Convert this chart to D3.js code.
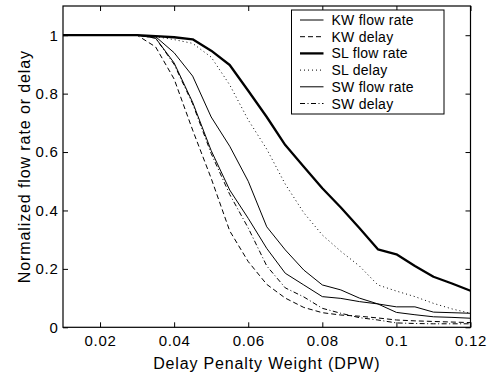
<!DOCTYPE html>
<html>
<head>
<meta charset="utf-8">
<script src="https://cdn.jsdelivr.net/npm/d3@7"></script>
<style>
  body { margin: 0; background: #fff; }
  text { font-family: "Liberation Sans", Arial, Helvetica, sans-serif; fill: #000; }
</style>
</head>
<body>
<div id="chart"></div>
<script>
// Delay penalty weight (x values)
var dpw = [0.01, 0.015, 0.02, 0.025, 0.03, 0.035, 0.04, 0.045, 0.05, 0.055, 0.06, 0.065,
  0.07, 0.075, 0.08, 0.085, 0.09, 0.095, 0.1, 0.105, 0.11, 0.115, 0.12];

var kwFlow = [1, 1, 1, 1, 1, 0.995, 0.94, 0.86, 0.72, 0.62, 0.50, 0.344,
  0.265, 0.196, 0.145, 0.128, 0.10, 0.08, 0.07, 0.07, 0.052, 0.05, 0.048];
var kwDelay = [1, 1, 1, 1, 1, 0.96, 0.85, 0.675, 0.51, 0.33, 0.225, 0.147,
  0.10, 0.068, 0.05, 0.042, 0.038, 0.032, 0.025, 0.022, 0.02, 0.018, 0.016];
var slFlow = [1, 1, 1, 1, 1, 0.997, 0.993, 0.986, 0.947, 0.898, 0.81, 0.72,
  0.624, 0.55, 0.476, 0.41, 0.34, 0.267, 0.25, 0.21, 0.173, 0.15, 0.125];
var slDelay = [1, 1, 1, 1, 1, 0.995, 0.985, 0.972, 0.925, 0.83, 0.71, 0.61,
  0.49, 0.392, 0.316, 0.26, 0.21, 0.145, 0.124, 0.105, 0.082, 0.063, 0.048];
var swFlow = [1, 1, 1, 1, 1, 0.99, 0.905, 0.77, 0.605, 0.47, 0.373, 0.27,
  0.185, 0.145, 0.105, 0.099, 0.088, 0.08, 0.051, 0.043, 0.036, 0.034, 0.031];
var swDelay = [1, 1, 1, 1, 1, 0.99, 0.9, 0.765, 0.595, 0.455, 0.34, 0.21,
  0.135, 0.104, 0.065, 0.048, 0.033, 0.025, 0.015, 0.013, 0.012, 0.012, 0.012];

var xTicks = [0.02, 0.04, 0.06, 0.08, 0.1, 0.12];
var yTicks = [0, 0.2, 0.4, 0.6, 0.8, 1];

var seriesNames = ["KW flow rate", "KW delay", "SL flow rate", "SL delay", "SW flow rate", "SW delay"];
var seriesValues = [kwFlow, kwDelay, slFlow, slDelay, swFlow, swDelay];

// line styles per series
var styles = [
  { width: 1, dash: null },
  { width: 1, dash: "5,3" },
  { width: 2.3, dash: null },
  { width: 1, dash: "1,3" },
  { width: 1, dash: null },
  { width: 1, dash: "5,2.5,1,2.5" }
];

var svgWidth = 489;
var svgHeight = 373;
var margin = { top: 6, right: 18.5, bottom: 45.7, left: 63 };
var width = svgWidth - margin.left - margin.right;
var height = svgHeight - margin.top - margin.bottom;

var svg = d3.select("#chart")
  .append("svg")
  .attr("width", svgWidth)
  .attr("height", svgHeight);

var chartGroup = svg.append("g")
  .attr("transform", `translate(${margin.left}, ${margin.top})`);

var xScale = d3.scaleLinear().domain([0.01, 0.12]).range([0, width]);
var yScale = d3.scaleLinear().domain([0, 1.1]).range([height, 0]);

// curves
var line = d3.line()
  .x((d, i) => xScale(dpw[i]))
  .y(d => yScale(d));

seriesValues.forEach(function(vals, i) {
  chartGroup.append("path")
    .datum(vals)
    .attr("fill", "none")
    .attr("stroke", "#000")
    .attr("stroke-width", styles[i].width)
    .attr("stroke-dasharray", styles[i].dash)
    .attr("stroke-linejoin", "round")
    .attr("d", line);
});

// axes, ticks inside (matlab style) on all four sides
var tickLen = 5;
var fmt = d => d3.format("~g")(d);

chartGroup.append("g")
  .attr("transform", `translate(0, ${height})`)
  .call(d3.axisBottom(xScale).tickValues(xTicks).tickSizeInner(-tickLen).tickSizeOuter(0).tickPadding(8.5).tickFormat(fmt))
  .call(g => g.selectAll("text").attr("font-size", 15).attr("letter-spacing", 0.7));

chartGroup.append("g")
  .call(d3.axisTop(xScale).tickValues(xTicks).tickSizeInner(-tickLen).tickSizeOuter(0).tickFormat(""));

chartGroup.append("g")
  .call(d3.axisLeft(yScale).tickValues(yTicks).tickSizeInner(-tickLen).tickSizeOuter(0).tickPadding(4.5).tickFormat(fmt))
  .call(g => g.selectAll("text").attr("font-size", 15).attr("letter-spacing", 0.7));

chartGroup.append("g")
  .attr("transform", `translate(${width}, 0)`)
  .call(d3.axisRight(yScale).tickValues(yTicks).tickSizeInner(-tickLen).tickSizeOuter(0).tickFormat(""));

chartGroup.selectAll(".domain").remove();
chartGroup.selectAll(".tick line").attr("stroke", "#000").attr("stroke-width", 1);
chartGroup.selectAll(".tick text").attr("font-family", null).attr("fill", "#000");

chartGroup.append("rect")
  .attr("x", 0)
  .attr("y", 0)
  .attr("width", width)
  .attr("height", height)
  .attr("fill", "none")
  .attr("stroke", "#000")
  .attr("stroke-width", 1.2);

// axis titles
chartGroup.append("text")
  .attr("x", width / 2)
  .attr("y", height + 41.5)
  .attr("text-anchor", "middle")
  .attr("font-size", 16)
  .attr("letter-spacing", 0.85)
  .text("Delay Penalty Weight (DPW)");

chartGroup.append("text")
  .attr("transform", `translate(${-33}, ${height / 2}) rotate(-90)`)
  .attr("text-anchor", "middle")
  .attr("font-size", 16)
  .attr("letter-spacing", 0.9)
  .text("Normalized flow rate or delay");

// legend
var legend = svg.append("g")
  .attr("transform", "translate(291.5, 10)");

legend.append("rect")
  .attr("width", 152.5)
  .attr("height", 104)
  .attr("fill", "#fff")
  .attr("stroke", "#000")
  .attr("stroke-width", 1);

seriesNames.forEach(function(name, i) {
  var y = 10 + i * 16.7;
  legend.append("line")
    .attr("x1", 8.5)
    .attr("x2", 32)
    .attr("y1", y)
    .attr("y2", y)
    .attr("stroke", "#000")
    .attr("stroke-width", styles[i].width)
    .attr("stroke-dasharray", styles[i].dash);
  legend.append("text")
    .attr("x", 40)
    .attr("y", y + 5)
    .attr("font-size", 14)
    .attr("letter-spacing", 0.25)
    .text(name);
});
</script>
</body>
</html>
